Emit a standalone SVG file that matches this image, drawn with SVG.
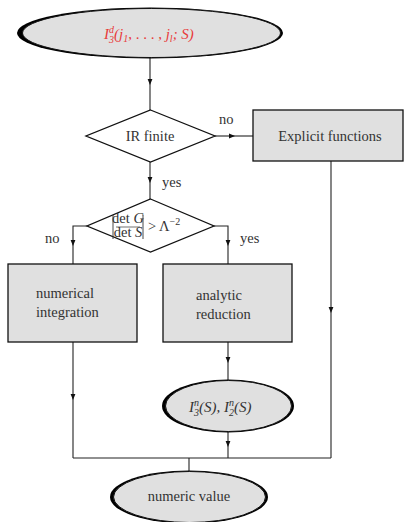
<svg xmlns="http://www.w3.org/2000/svg" width="405" height="522" viewBox="0 0 405 522">
<defs>
<style>
.box{fill:#e0e0e0;stroke:#111;stroke-width:1.3}
.dia{fill:#fff;stroke:#111;stroke-width:1.3}
.sh{fill:#000}
.el{fill:#e0e0e0;stroke:#111;stroke-width:1}
.c{fill:none;stroke:#222;stroke-width:1.1}
.t{font-family:'Liberation Serif','DejaVu Serif',serif;font-size:14.5px;fill:#333}
.m{font-family:'Liberation Serif','DejaVu Serif',serif;font-style:italic;font-size:15px;fill:#333}
.r{fill:#e83a3a}
.s{font-size:10px}
</style>
<marker id="a" viewBox="0 0 6 6" refX="6" refY="3" markerWidth="6" markerHeight="6" markerUnits="userSpaceOnUse" orient="auto">
<path d="M0,0.6 L6,3 L0,5.4 Z" fill="#111"/>
</marker>
</defs>

<g id="connectors">
<path class="c" d="M150,58 V85" marker-end="url(#a)"/><path class="c" d="M150,85 V110"/>
<path class="c" d="M215,136 H235" marker-end="url(#a)"/><path class="c" d="M235,136 H253"/>
<path class="c" d="M150,162 V183" marker-end="url(#a)"/><path class="c" d="M150,183 V200"/>
<path class="c" d="M87,226 H73 V246" marker-end="url(#a)"/><path class="c" d="M73,246 V264"/>
<path class="c" d="M214,226 H228 V246" marker-end="url(#a)"/><path class="c" d="M228,246 V264"/>
<path class="c" d="M73,342 V400" marker-end="url(#a)"/><path class="c" d="M73,400 V458"/>
<path class="c" d="M228,342 V363" marker-end="url(#a)"/><path class="c" d="M228,363 V380"/>
<path class="c" d="M228,432 V447" marker-end="url(#a)"/><path class="c" d="M228,447 V458"/>
<path class="c" d="M331,161 V313" marker-end="url(#a)"/><path class="c" d="M331,313 V458"/>
<path class="c" d="M73,458 H331"/>
<path class="c" d="M189,458 V471"/>
<text class="t" x="219" y="124">no</text>
<text class="t" x="162" y="187">yes</text>
<text class="t" x="45" y="243">no</text>
<text class="t" x="240" y="243">yes</text>
</g>

<g id="start">
<ellipse class="sh" cx="150" cy="33" rx="133" ry="25.5"/>
<ellipse class="el" cx="151.5" cy="33" rx="129" ry="24.5"/>
<text class="m r" x="104" y="39">I<tspan class="s" dy="-6">d</tspan><tspan class="s" dx="-5" dy="10">3</tspan><tspan dy="-4">(j</tspan><tspan class="s" dy="3">1</tspan><tspan dy="-3" font-style="normal">, . . . , </tspan>j<tspan class="s" dy="3">l</tspan><tspan dy="-3">; S)</tspan></text>
</g>

<g id="ir-finite">
<polygon class="dia" points="150.5,110 215,136 150.5,162 86,136"/>
<text class="t" x="150" y="141" text-anchor="middle">IR finite</text>
</g>

<g id="explicit">
<rect class="box" x="253" y="110" width="150" height="51"/>
<text class="t" x="330" y="141" text-anchor="middle">Explicit functions</text>
</g>

<g id="det-test">
<polygon class="dia" points="150.5,199 214,226 150.5,252 87,226"/>
<line x1="113" y1="215" x2="113" y2="239" stroke="#333" stroke-width="0.9"/>
<line x1="143" y1="215" x2="143" y2="239" stroke="#333" stroke-width="0.9"/>
<line x1="116" y1="227" x2="140" y2="227" stroke="#333" stroke-width="0.7"/>
<text class="t" x="128" y="222.5" text-anchor="middle" font-size="9">det <tspan font-style="italic">G</tspan></text>
<text class="t" x="128" y="237" text-anchor="middle" font-size="9">det <tspan font-style="italic">S</tspan></text>
<text class="t" x="148" y="231" font-size="15">&gt; Λ<tspan font-size="10" dy="-6">−2</tspan></text>
</g>

<g id="numerical">
<rect class="box" x="8" y="264" width="129" height="78"/>
<text class="t" x="36" y="298">numerical</text>
<text class="t" x="36" y="317">integration</text>
</g>

<g id="analytic">
<rect class="box" x="163" y="264" width="129" height="78"/>
<text class="t" x="196" y="300">analytic</text>
<text class="t" x="196" y="319">reduction</text>
</g>

<g id="master">
<ellipse class="sh" cx="228" cy="406" rx="66" ry="26.5"/>
<ellipse class="el" cx="228.5" cy="406" rx="63" ry="25.5"/>
<text class="m" x="189" y="412">I<tspan class="s" dy="-6">n</tspan><tspan class="s" dx="-5" dy="10">3</tspan><tspan dy="-4">(S), I</tspan><tspan class="s" dy="-6">n</tspan><tspan class="s" dx="-5" dy="10">2</tspan><tspan dy="-4">(S)</tspan></text>
</g>

<g id="result">
<ellipse class="sh" cx="189" cy="497" rx="79" ry="26.5"/>
<ellipse class="el" cx="189.5" cy="497" rx="76" ry="25.5"/>
<text class="t" x="189" y="501" text-anchor="middle">numeric value</text>
</g>
</svg>
